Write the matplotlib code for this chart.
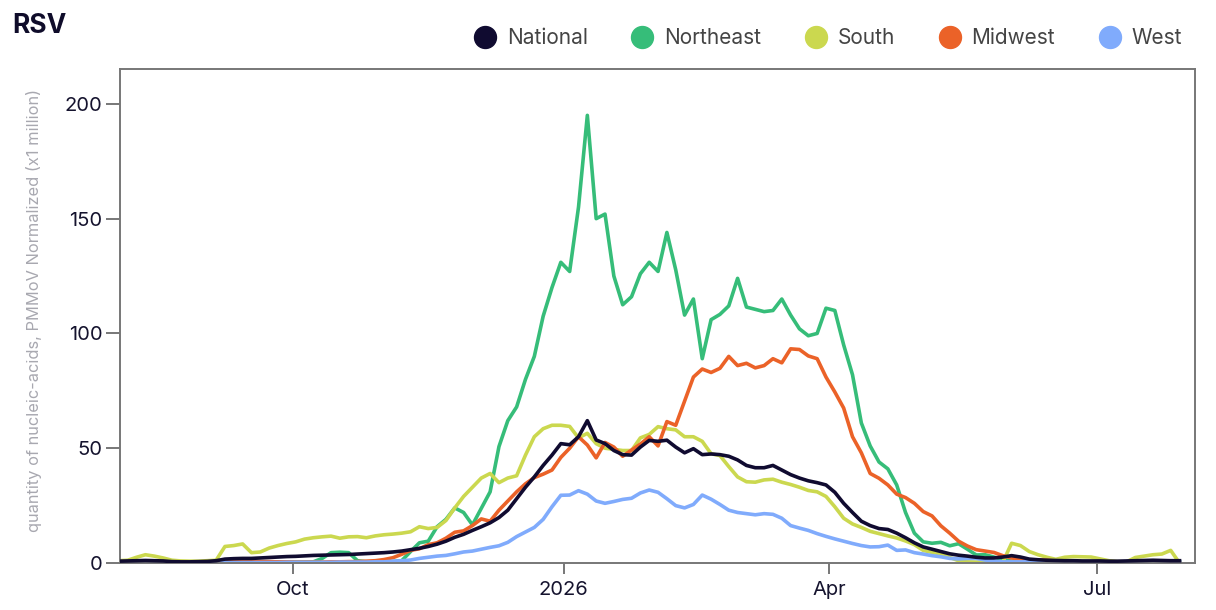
import matplotlib
matplotlib.use("Agg")
import matplotlib.pyplot as plt
from matplotlib.lines import Line2D
import pandas as pd

plt.rcParams['font.family'] = ['Inter', 'DejaVu Sans']

# samples every 3 days
dates = pd.date_range("2025-08-03", periods=121, freq="3D")

national = [0.8, 0.9, 1.0, 1.1, 1.0, 0.9, 0.6, 0.5, 0.5, 0.6,
            0.7, 1.0, 1.7, 1.9, 2.0, 2.0, 2.2, 2.4, 2.6, 2.8,
            2.9, 3.1, 3.3, 3.4, 3.5, 3.6, 3.7, 3.9, 4.1, 4.3,
            4.5, 4.8, 5.2, 5.8, 6.4, 7.2, 8.2, 9.5, 11.2, 12.5,
            14.2, 15.8, 17.5, 19.8, 23, 28, 33, 37.5, 42.5, 47,
            52, 51.5, 55, 62, 53.6, 52, 49, 47.2, 47, 50.5,
            53.4, 53, 53.5, 50.5, 48, 49.8, 47.2, 47.5, 47.2, 46.5,
            44.9, 42.5, 41.5, 41.5, 42.5, 40.5, 38.5, 37, 35.8, 35,
            34, 30.8, 26, 22, 18.2, 16.3, 15, 14.6, 13, 11,
            8.8, 7, 6, 5, 4, 3.4, 3, 2.5, 2.2, 2.2,
            2.6, 3.2, 2.6, 1.7, 1.4, 1.2, 1.1, 1.0, 1.0, 0.9,
            0.9, 0.9, 0.8, 0.8, 0.9, 1.0, 1.1, 1.2, 1.1, 1.0,
            1.0]

northeast = [0.3, 0.3, 0.3, 0.2, 0.2, 0.2, 0.2, 0.2, 0.2, 0.2,
             0.3, 0.3, 0.3, 0.3, 0.3, 0.3, 0.3, 0.4, 0.4, 0.4,
             0.4, 0.4, 0.5, 2.0, 4.5, 4.7, 4.5, 1.0, 0.5, 0.5,
             0.5, 0.6, 1.0, 5.0, 8.8, 9.5, 15.8, 19, 24, 22,
             16.6, 23.8, 31, 50.7, 62, 68, 80, 90, 107.5, 120,
             131, 127, 155, 195, 150, 152, 125, 112.5, 116, 126,
             131, 127, 144, 127.7, 108, 115, 89, 106, 108.3, 112,
             124, 111.5, 110.5, 109.5, 110, 115, 108, 102, 99, 100,
             111, 110, 95, 82, 61, 51, 44, 41, 34, 22,
             13, 9.2, 8.6, 9.0, 7.5, 8.4, 6.0, 3.5, 3.6, 2.6,
             1.5, 0.8, 0.5, 0.5, 0.5, 0.5, 0.5, 0.5, 0.5, 0.5,
             0.5, 0.5, 0.5, 0.5, 0.5, 0.5, 0.5, 0.5, 0.5, 0.5,
             0.5]

south = [1.0, 1.2, 2.5, 3.6, 3.0, 2.2, 1.2, 0.9, 0.8, 0.8,
         1.0, 1.2, 7.2, 7.6, 8.3, 4.5, 4.8, 6.5, 7.6, 8.5,
         9.2, 10.4, 11.0, 11.4, 11.7, 10.8, 11.4, 11.5, 11.0, 11.8,
         12.3, 12.6, 13.0, 13.6, 15.8, 15.0, 15.5, 18.5, 24, 29,
         33, 37, 39, 35, 37, 38, 47, 55, 58.5, 60,
         60, 59.5, 54.5, 56.5, 52, 50, 49.5, 49, 49, 54.5,
         56, 59.4, 58.5, 58, 55, 55, 53, 47.6, 46.8, 42,
         37.5, 35.4, 35.2, 36.2, 36.5, 35.2, 34.2, 33, 31.6, 31,
         29, 24.5, 19.5, 17, 15.5, 13.8, 12.8, 11.8, 10.9, 9.6,
         8.0, 5.5, 4.6, 4.0, 2.4, 1.0, 0.5, 0.4, 0.3, 0.3,
         0.3, 8.6, 7.6, 5.0, 3.6, 2.5, 1.6, 2.5, 2.8, 2.7,
         2.6, 1.8, 1.0, 0.6, 0.5, 2.4, 3.0, 3.6, 3.9, 5.5,
         0.0]

midwest = [0.1, 0.1, 0.1, 0.1, 0.1, 0.1, 0.1, 0.1, 0.1, 0.1,
           0.1, 0.2, 0.6, 0.8, 0.8, 0.7, 0.6, 0.6, 0.5, 0.5,
           0.4, 0.4, 0.4, 0.4, 0.5, 0.5, 0.6, 0.6, 0.8, 1.0,
           1.5, 2.3, 3.8, 5.5, 6.2, 8.0, 8.8, 10.8, 13.4, 14.0,
           16.3, 19.2, 18.2, 23, 27, 31, 34.5, 37.2, 38.7, 40.5,
           46, 50, 55, 51.4, 45.8, 52.5, 50.5, 46.5, 49.2, 51.8,
           55, 51, 61.6, 60, 70.5, 81, 84.5, 83, 84.8, 90,
           86, 87, 85, 86, 89, 87.2, 93.3, 93, 90.2, 89,
           81, 74.5, 67.5, 55, 48, 39, 36.9, 34, 30, 28.5,
           26, 22.4, 20.5, 16.2, 13, 9.5, 7.4, 5.8, 5.2, 4.6,
           3.2, 2.2, 1.6, 1.4, 1.3, 1.2, 0.8, 0.5, 0.3, 0.3,
           0.3, 0.3, 0.3, 0.3, 0.3, 0.3, 0.3, 0.3, 0.3, 0.3,
           0.2]

west = [0.2, 0.2, 0.2, 0.2, 0.2, 0.2, 0.2, 0.2, 0.2, 0.2,
        0.2, 0.2, 0.2, 0.2, 0.2, 0.2, 0.2, 0.2, 0.2, 0.3,
        0.3, 0.3, 0.3, 0.3, 0.3, 0.4, 0.4, 0.4, 0.4, 0.5,
        0.5, 0.8, 1.0, 1.3, 2.0, 2.5, 3.0, 3.3, 4.0, 4.8,
        5.2, 6.0, 6.8, 7.5, 9.0, 11.5, 13.5, 15.5, 19, 24.5,
        29.5, 29.6, 31.5, 30, 27, 26, 26.8, 27.7, 28.2, 30.5,
        31.8, 30.8, 28, 25, 24, 25.5, 29.6, 27.8, 25.5, 23,
        22, 21.5, 21, 21.5, 21.2, 19.5, 16.3, 15.2, 14.2, 12.8,
        11.6, 10.5, 9.5, 8.5, 7.6, 7.0, 7.1, 7.8, 5.5, 5.7,
        4.5, 3.9, 3.2, 2.7, 2.0, 1.8, 2.0, 2.0, 1.3, 0.8,
        0.5, 0.5, 0.5, 0.5, 0.5, 0.5, 0.5, 0.5, 0.5, 0.5,
        0.5, 0.5, 0.5, 0.5, 0.5, 0.5, 0.5, 0.5, 0.5, 0.5,
        0.5]

names = ["National", "Northeast", "South", "Midwest", "West"]
colors = ["#100b30", "#36bd79", "#cbd84f", "#eb6228", "#80abfc"]
series = [national, northeast, south, midwest, west]

fig = plt.figure(figsize=(12.16, 6.10), dpi=100)
ax = fig.add_axes([120/1216, 47/610, 1075/1216, 494/610])

# regions first, national drawn on top
for k in [1, 2, 3, 4, 0]:
    ax.plot(dates, series[k], color=colors[k], lw=2.6, zorder=3 if k == 0 else 2)

ax.set_xlim(pd.Timestamp("2025-08-03 09:00"), pd.Timestamp("2026-08-03 06:00"))
ax.set_ylim(0, 215.2)
ax.set_yticks([0, 50, 100, 150, 200])
ax.set_xticks([pd.Timestamp("2025-10-01"), pd.Timestamp("2026-01-01"),
               pd.Timestamp("2026-04-01"), pd.Timestamp("2026-07-01")])
ax.set_xticklabels(["Oct", "2026", "Apr", "Jul"])

for s in ax.spines.values():
    s.set_color("#777777")
    s.set_linewidth(1.4)
ax.tick_params(axis='both', colors="#777777", width=1.4,
               labelsize=14.5, labelcolor="#15132e")
ax.tick_params(axis='y', length=10, pad=2.5)
ax.tick_params(axis='x', length=8, pad=5)

ax.set_ylabel("quantity of nucleic-acids, PMMoV Normalized (x1 million)",
              color="#a8a8b0", fontsize=11.8)
ax.yaxis.set_label_coords(-0.0726, 0.512)

fig.text(12/1216, 1 - 26/610, "RSV", fontsize=19, fontweight='bold',
         color="#0f0c2a", va='center', ha='left')

handles = [Line2D([], [], ls='none', marker='o', markersize=15.8,
                  markerfacecolor=c, markeredgecolor=c) for c in colors]
leg = fig.legend(handles, names, loc='center right', ncol=5,
                 bbox_to_anchor=(1182/1216, 1 - 38.5/610), frameon=False,
                 fontsize=15, handletextpad=0.5, columnspacing=2.07,
                 borderaxespad=0, borderpad=0, handlelength=1.1)
for t in leg.get_texts():
    t.set_color("#444444")

fig.savefig("out.png", dpi=100)
